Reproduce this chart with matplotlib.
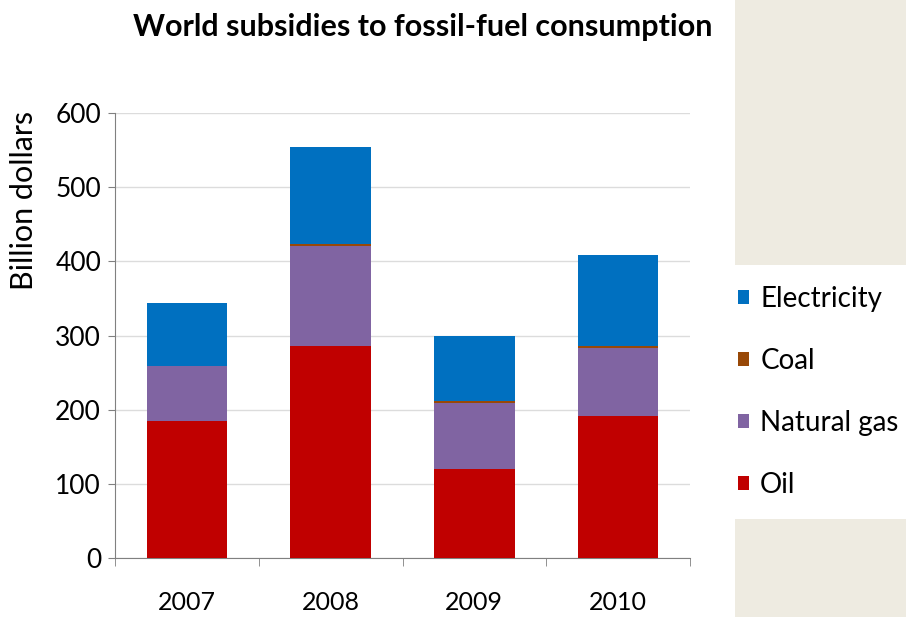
import numpy as np
import matplotlib.pyplot as plt
from matplotlib.patches import Patch, Rectangle

plt.rcParams['font.family'] = ['Lato', 'DejaVu Sans']

years = ["2007", "2008", "2009", "2010"]
oil = [185, 286, 120, 192]
natural_gas = [74, 135, 89, 91]
coal = [0, 3, 3, 3]
electricity = [85, 130, 88, 122]

colors = {
    "Oil": "#C00000",
    "Natural gas": "#8064A2",
    "Coal": "#984807",
    "Electricity": "#0070C0",
}

fig = plt.figure(figsize=(9.06, 6.17), dpi=100)
fig.patch.set_facecolor("white")

# beige side panel, interrupted by the white legend box
panel = "#EEEBE1"
fig.patches.append(Rectangle((735 / 906, 0), 1, 98 / 617, transform=fig.transFigure,
                             facecolor=panel, edgecolor="none", zorder=0))
fig.patches.append(Rectangle((735 / 906, 352 / 617), 1, 1, transform=fig.transFigure,
                             facecolor=panel, edgecolor="none", zorder=0))

ax = fig.add_axes([115 / 906, 59 / 617, 575 / 906, 445 / 617])

x = np.arange(len(years))
w = 0.56
bottom = np.zeros(len(years))
series = [("Oil", oil), ("Natural gas", natural_gas), ("Coal", coal), ("Electricity", electricity)]
for name, vals in series:
    ax.bar(x, vals, w, bottom=bottom, color=colors[name], zorder=3)
    bottom += np.array(vals)

ax.set_xlim(-0.5, len(years) - 0.5)
ax.set_ylim(0, 600)
ax.set_yticks(range(0, 601, 100))
ax.yaxis.grid(True, color="#DCDCDC", linewidth=1, zorder=0)
ax.set_axisbelow(True)

ax.set_xticks(x)
ax.set_xticklabels(years, fontsize=18)
ax.set_xticks(np.arange(-0.5, len(years)), minor=True)
ax.tick_params(axis="x", which="major", length=0, pad=24)
ax.tick_params(axis="x", which="minor", length=6, color="#808080", direction="out")
ax.tick_params(axis="y", length=5, color="#808080", labelsize=19, pad=5)

for side in ["top", "right"]:
    ax.spines[side].set_visible(False)
ax.spines["left"].set_color("#808080")
ax.spines["bottom"].set_color("#808080")

fig.text(24 / 906, 1 - 200 / 617, "Billion dollars", rotation=90,
         ha="center", va="center", fontsize=22)

fig.text(423 / 906, 1 - 27 / 617, "World subsidies to fossil-fuel consumption",
         ha="center", va="center", fontsize=22, fontweight="bold")

handles = [Patch(facecolor=colors[n], edgecolor="none") for n in
           ["Electricity", "Coal", "Natural gas", "Oil"]]
fig.legend(handles, ["Electricity", "Coal", "Natural gas", "Oil"],
           loc="center left", bbox_to_anchor=(738 / 906, 1 - 392 / 617),
           frameon=False, fontsize=20, handlelength=0.38, handleheight=0.38,
           handletextpad=0.42, labelspacing=1.3, borderpad=0, borderaxespad=0)

fig.savefig("out.png", dpi=100)
